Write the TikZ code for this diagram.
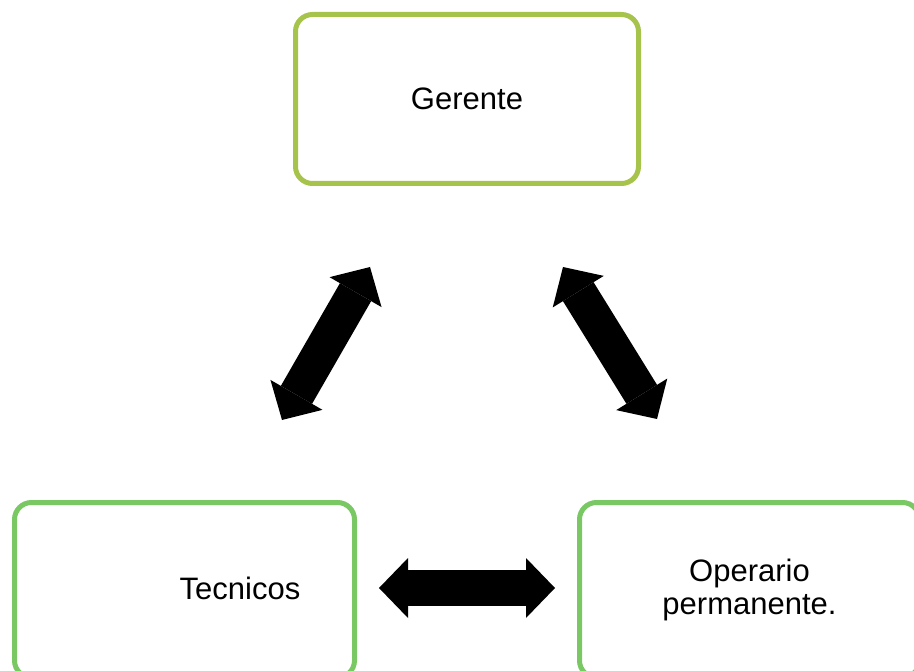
\documentclass[tikz,border=0pt]{standalone}
\usepackage{fontspec}
\setmainfont{Liberation Sans}
\usetikzlibrary{arrows.meta}
\definecolor{olivebox}{RGB}{166,195,76}
\definecolor{greenbox}{RGB}{122,200,100}
\begin{document}
\begin{tikzpicture}[x=1pt,y=-1pt,
  box/.style={draw, line width=5pt, rounded corners=17pt, fill=white, inner sep=0pt, align=center, font=\fontsize{31}{33}\selectfont},
  txt/.style={inner sep=0pt, font=\fontsize{31}{33}\selectfont},
  bigtip/.style={Triangle[length=29pt,width=60pt,line width=0pt]},
  bigarrow/.style={line width=36pt, {Triangle[length=29pt,width=60pt,line width=0pt]}-{Triangle[length=29pt,width=60pt,line width=0pt]}}]
\useasboundingbox (0,0) rectangle (914,671);
\clip (0,0) rectangle (914,671);
\node[box, draw=olivebox, minimum width=343pt, minimum height=169pt] (ger) at (467,99) {Gerente};
\node[box, draw=greenbox, minimum width=340pt, minimum height=175pt] (tec) at (184.5,590) {};
\node[txt] (tectxt) at (240,588) {Tecnicos};
\node[box, draw=greenbox, minimum width=340pt, minimum height=175pt] (ope) at (749.5,590) {Operario\\permanente.};
\coordinate (a1) at (282,420);
\coordinate (a2) at (370,267);
\coordinate (b1) at (563,267);
\coordinate (b2) at (657,419);
\coordinate (c1) at (379,588);
\coordinate (c2) at (555,588);
\draw[bigarrow] (a1) -- (a2);
\draw[bigarrow] (b1) -- (b2);
\draw[bigarrow] (c1) -- (c2);
\end{tikzpicture}
\end{document}
